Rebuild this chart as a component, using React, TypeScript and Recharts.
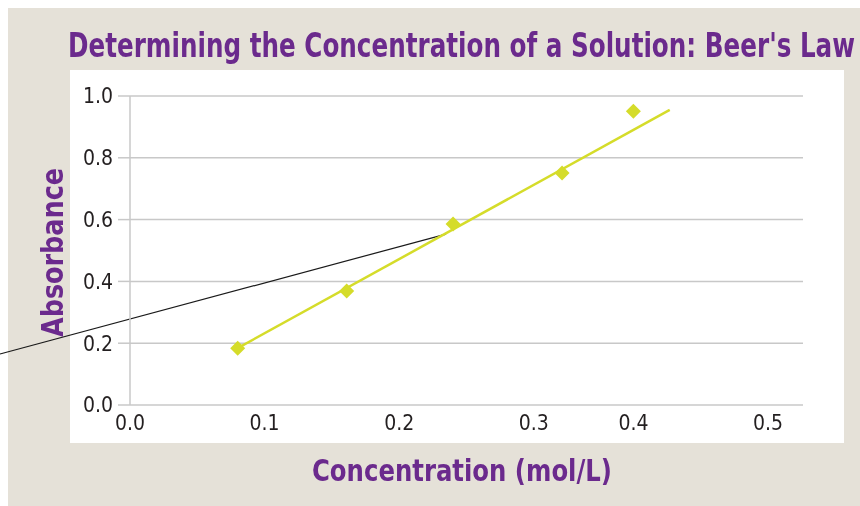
import React from "react";
import {
  ScatterChart,
  Scatter,
  XAxis,
  YAxis,
  CartesianGrid,
  ReferenceLine,
} from "recharts";

// ---- data ----
const concentrations = [0.08, 0.161, 0.24, 0.321, 0.374];
const absorbances = [0.184, 0.369, 0.586, 0.751, 0.951];

const trendX = [0.08, 0.401];
const trendY = [0.184, 0.955];

const pointerX = [-0.0966, 0.2348];
const pointerY = [0.165, 0.553];

const xTickValues = [0, 0.1, 0.2, 0.3, 0.374, 0.474];
const xTickLabels = ["0.0", "0.1", "0.2", "0.3", "0.4", "0.5"];
const yTickValues = [0, 0.2, 0.4, 0.6, 0.8, 1.0];
const yTickLabels = ["0.0", "0.2", "0.4", "0.6", "0.8", "1.0"];

const titleText = "Determining the Concentration of a Solution: Beer's Law";
const xAxisTitle = "Concentration (mol/L)";
const yAxisTitle = "Absorbance";

// ---- styles ----
const BEIGE = "#e5e1d8";
const PURPLE = "#6b2a8d";
const LIME = "#d5dc2a";
const GRID = "#c8c8c8";
const FONT =
  "'Liberation Sans Narrow', 'DejaVu Sans Condensed', 'Roboto Condensed', 'Liberation Sans', sans-serif";

const points = concentrations.map((c, i) => ({ x: c, y: absorbances[i] }));
const trend = trendX.map((x, i) => ({ x, y: trendY[i] }));

const Diamond = (props: any) => {
  const { cx, cy } = props;
  if (cx == null || cy == null) return null;
  const r = 7.5;
  return (
    <polygon
      points={`${cx},${cy - r} ${cx + r},${cy} ${cx},${cy + r} ${cx - r},${cy}`}
      fill={LIME}
    />
  );
};

const NoShape = () => null;

export default function App() {
  return (
    <div style={{ position: "relative", width: 844, height: 490 }}>
      <style>{"svg.recharts-surface{overflow:visible !important}.recharts-wrapper{overflow:visible !important}"}</style>
      <div
        style={{
          position: "fixed",
          left: 8,
          top: 8,
          width: 852,
          height: 498,
          background: BEIGE,
          fontFamily: FONT,
        }}
      >
        <div
          style={{
            position: "absolute",
            left: 62,
            top: 62,
            width: 774,
            height: 373,
            background: "#ffffff",
          }}
        />
        <div style={{ position: "absolute", left: 0, top: 0 }}>
          <ScatterChart
            width={852}
            height={498}
            margin={{ top: 88, right: 57, bottom: 61, left: 0 }}
          >
            <CartesianGrid
              vertical={false}
              stroke={GRID}
              strokeWidth={1.5}
              horizontalValues={yTickValues}
            />
            <XAxis
              type="number"
              dataKey="x"
              domain={[0, 0.5]}
              ticks={xTickValues}
              tickFormatter={(_v: any, i: number) => xTickLabels[i]}
              axisLine={false}
              tickLine={false}
              tickSize={0}
              tickMargin={10}
              height={40}
              interval={0}
              allowDataOverflow
              tick={{ fill: "#231f20", fontSize: 21, fontFamily: FONT }}
              label={{
                content: () => (
                  <text
                    x={304}
                    y={473}
                    fill={PURPLE}
                    fontSize={31}
                    fontWeight="bold"
                    fontFamily={FONT}
                    textLength={300}
                    lengthAdjust="spacingAndGlyphs"
                  >
                    {xAxisTitle}
                  </text>
                ),
              }}
            />
            <YAxis
              type="number"
              dataKey="y"
              domain={[0, 1]}
              ticks={yTickValues}
              tickFormatter={(_v: any, i: number) => yTickLabels[i]}
              width={122}
              axisLine={{ stroke: GRID, strokeWidth: 1.5 }}
              tickLine={{ stroke: GRID, strokeWidth: 1.5 }}
              tickSize={12}
              tickMargin={5}
              interval={0}
              allowDataOverflow
              tick={{ fill: "#231f20", fontSize: 21, fontFamily: FONT }}
              label={{
                content: () => (
                  <text
                    x={55}
                    y={244.5}
                    transform="rotate(-90, 55, 244.5)"
                    textAnchor="middle"
                    fill={PURPLE}
                    fontSize={31}
                    fontWeight="bold"
                    fontFamily={FONT}
                    textLength={169}
                    lengthAdjust="spacingAndGlyphs"
                  >
                    {yAxisTitle}
                  </text>
                ),
              }}
            />
            <ReferenceLine
              segment={[
                { x: pointerX[0], y: pointerY[0] },
                { x: pointerX[1], y: pointerY[1] },
              ]}
              stroke="#1a1a1a"
              strokeWidth={1.2}
              ifOverflow="visible"
            />
            <Scatter
              data={trend}
              line={{ stroke: LIME, strokeWidth: 2.5 }}
              shape={NoShape}
              isAnimationActive={false}
            />
            <Scatter data={points} shape={Diamond} isAnimationActive={false} />
          </ScatterChart>
        </div>
        <svg
          width={852}
          height={498}
          style={{ position: "absolute", left: 0, top: 0, pointerEvents: "none" }}
        >
          <text
            x={60}
            y={49}
            fill={PURPLE}
            fontSize={34}
            fontWeight="bold"
            fontFamily={FONT}
            textLength={787}
            lengthAdjust="spacingAndGlyphs"
          >
            {titleText}
          </text>
        </svg>
      </div>
    </div>
  );
}
